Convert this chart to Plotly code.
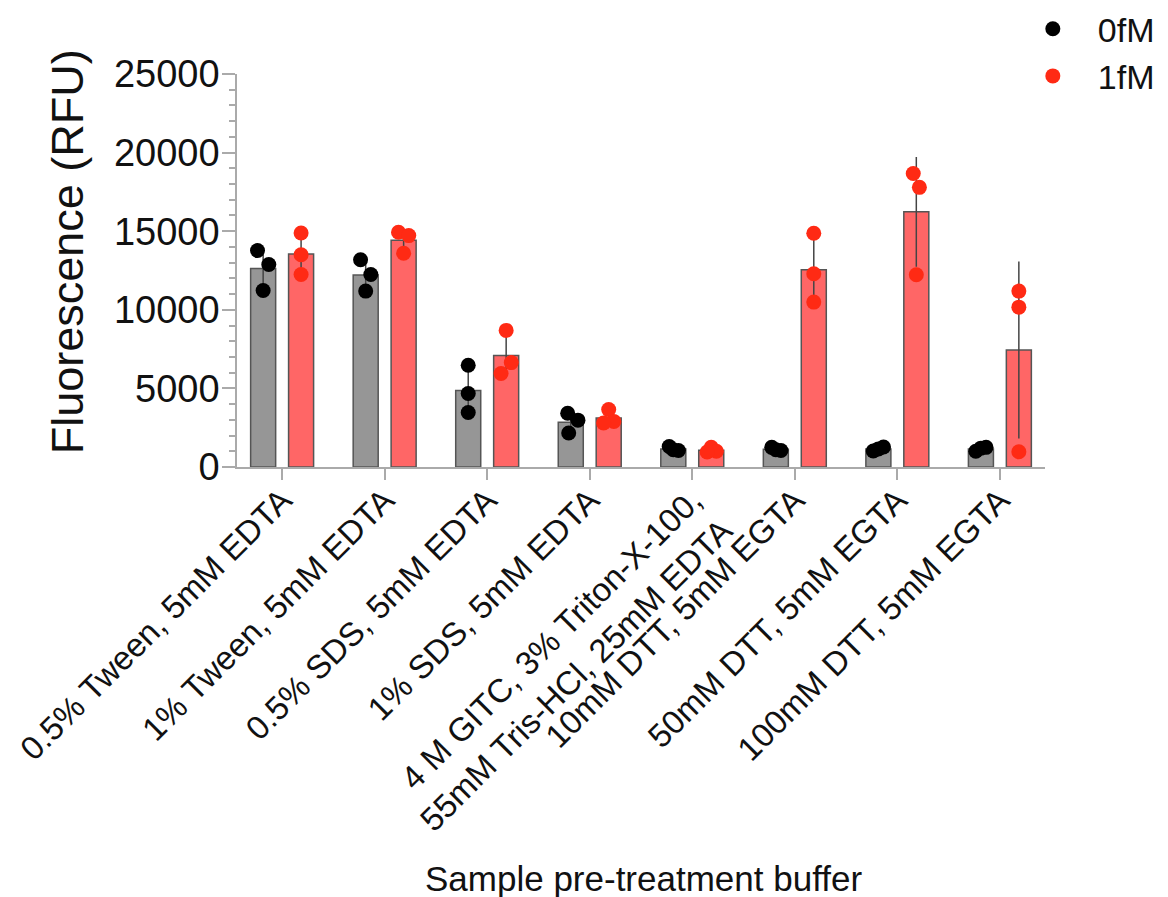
import plotly.graph_objects as go
import numpy as np

categories = [
    "0.5% Tween, 5mM EDTA",
    "1% Tween, 5mM EDTA",
    "0.5% SDS, 5mM EDTA",
    "1% SDS, 5mM EDTA",
    "4 M GITC, 3% Triton-X-100,<br>55mM Tris-HCl, 25mM EDTA",
    "10mM DTT, 5mM EGTA",
    "50mM DTT, 5mM EGTA",
    "100mM DTT, 5mM EGTA",
]

# replicate fluorescence readings (RFU)
rfu_0fM = [
    [13770, 12880, 11230],
    [13180, 12250, 11190],
    [6470, 4680, 3470],
    [3420, 2980, 2160],
    [1300, 1050, 1100],
    [1250, 1050, 1100],
    [1270, 1015, 1150],
    [1250, 1000, 1200],
]
rfu_1fM = [
    [14890, 13500, 12250],
    [14930, 14720, 13600],
    [8690, 6640, 5950],
    [3650, 2900, 2800],
    [1250, 1000, 950],
    [14870, 12290, 10490],
    [18670, 17790, 12230],
    [11190, 10170, 970],
]

series_names = ["0fM", "1fM"]
y_ticks = [0, 5000, 10000, 15000, 20000, 25000]
x_title = "Sample pre-treatment buffer"
y_title = "Fluorescence (RFU)"

# style: horizontal jitter of replicate dots (category units)
jitter_0 = [[-0.055, 0.055, 0], [-0.05, 0.05, 0], [0, 0, 0], [-0.03, 0.07, -0.02],
            [-0.04, 0.05, 0], [-0.04, 0.05, 0], [0.05, -0.05, 0], [0.05, -0.05, 0]]
jitter_1 = [[0, 0, 0], [-0.05, 0.05, 0], [0, 0.05, -0.05], [0, 0.05, -0.05],
            [0, 0.05, -0.04], [0, 0, 0], [-0.03, 0.03, 0], [0, 0, 0]]

offset = 0.185
bar_w = 0.244
idx = np.arange(len(categories))

fig = go.Figure()

def add_group(data, jit, pos_off, bar_color, dot_color, name):
    arr = np.array(data, dtype=float)
    means = arr.mean(axis=1)
    sds = arr.std(axis=1, ddof=1)
    fig.add_trace(go.Bar(
        x=idx + pos_off, y=means, width=bar_w,
        marker=dict(color=bar_color, line=dict(color="#555555", width=1.5)),
        error_y=dict(type="data", array=sds, visible=True, color="#444444",
                     thickness=1.5, width=0),
        showlegend=False, hoverinfo="skip",
    ))
    xs, ys = [], []
    for i, row in enumerate(data):
        for j, v in enumerate(row):
            xs.append(i + pos_off + jit[i][j])
            ys.append(v)
    fig.add_trace(go.Scatter(
        x=xs, y=ys, mode="markers", name=name,
        marker=dict(color=dot_color, size=15),
    ))

add_group(rfu_0fM, jitter_0, -offset, "#969696", "#000000", series_names[0])
add_group(rfu_1fM, jitter_1, offset, "#ff6666", "#ff2a14", series_names[1])

font_family = "Liberation Sans, Arial, Helvetica, sans-serif"

# page body has an 8px margin, so the figure is 8px smaller and shifted
fig.update_layout(
    width=1160, height=889,
    margin=dict(l=229, r=123, t=66, b=430, autoexpand=False),
    plot_bgcolor="white", paper_bgcolor="white",
    barmode="overlay",
    font=dict(family=font_family, color="#111111"),
    legend=dict(x=0.954, y=1.188, xanchor="left", yanchor="top",
                font=dict(size=34), bgcolor="rgba(0,0,0,0)", tracegroupgap=0,
                itemwidth=80),
    xaxis=dict(
        range=[-0.44, 7.44], automargin=False,
        tickmode="array", tickvals=list(idx), ticktext=categories,
        tickangle=-45, tickfont=dict(size=33), ticklabelstandoff=-12,
        ticks="outside", ticklen=11, tickwidth=1.5, tickcolor="#aaaaaa",
        showline=True, linecolor="#aaaaaa", linewidth=1.5,
        showgrid=False, zeroline=False,
    ),
    yaxis=dict(
        range=[0, 25000], automargin=False,
        tickmode="array", tickvals=y_ticks, ticktext=[str(t) for t in y_ticks],
        tickfont=dict(size=38), ticklabelstandoff=-5,
        ticks="outside", ticklen=13, tickwidth=1.5, tickcolor="#aaaaaa",
        minor=dict(dtick=1000, ticks="outside", ticklen=6, tickwidth=1.5, tickcolor="#aaaaaa"),
        showline=True, linecolor="#aaaaaa", linewidth=1.5,
        showgrid=False, zeroline=False,
    ),
    annotations=[
        dict(text=x_title, xref="paper", yref="paper", x=0.5025, y=-1.046,
             xanchor="center", yanchor="middle", showarrow=False,
             font=dict(size=35)),
        dict(text=y_title, xref="paper", yref="paper", x=-0.210, y=0.547,
             xanchor="center", yanchor="middle", showarrow=False, textangle=-90,
             font=dict(size=45)),
    ],
)

fig.write_html("out.html")
